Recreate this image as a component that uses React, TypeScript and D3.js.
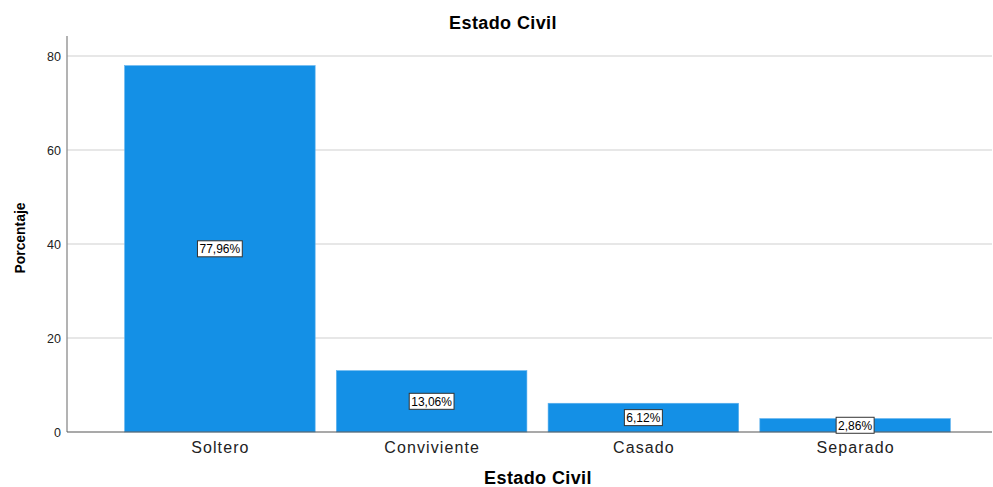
import React from "react";
import * as d3 from "d3";

const categories = ["Soltero", "Conviviente", "Casado", "Separado"];
const values = [77.96, 13.06, 6.12, 2.86];
const labels = ["77,96%", "13,06%", "6,12%", "2,86%"];
const yTicks = [0, 20, 40, 60, 80];

export default function App() {
  const W = 993, H = 487;
  const left = 67, right = 992, top = 36, bottom = 432;
  const y = d3.scaleLinear().domain([0, 84.26]).range([bottom, top]);
  const x = d3.scaleBand<string>().domain(categories).range([114, 961]).paddingInner(0.1).paddingOuter(0.05);
  const font = "Arial, 'Liberation Sans', sans-serif";
  return (
    <svg width={W} height={H} style={{ position: "absolute", left: 0, top: 0, background: "#fff" }} fontFamily={font}>
      <text x={503} y={29} textAnchor="middle" fontSize={18} fontWeight="bold" fill="#000" letterSpacing={0.4}>Estado Civil</text>
      {yTicks.filter(t => t > 0).map(t => (
        <line key={t} x1={left} x2={right} y1={y(t)} y2={y(t)} stroke="#cfcfcf" strokeWidth={1.2} />
      ))}
      {yTicks.map(t => (
        <text key={"l" + t} x={61} y={y(t) + 4.5} textAnchor="end" fontSize={12.5} fill="#222">{t}</text>
      ))}
      {categories.map((c, i) => (
        <rect key={c} x={x(c)!} y={y(values[i])} width={x.bandwidth()} height={bottom - y(values[i])} fill="#1490e6" stroke="#5fb2ee" strokeWidth={0.6} />
      ))}
      <line x1={left} x2={left} y1={top} y2={bottom} stroke="#8a8a8a" strokeWidth={1.3} />
      <line x1={left} x2={right} y1={bottom} y2={bottom} stroke="#555" strokeWidth={1.2} />
      {categories.map((c, i) => {
        const cx = x(c)! + x.bandwidth() / 2;
        const cy = (y(values[i]) + bottom) / 2;
        const w = labels[i].length * 6.8 + 4;
        return (
          <g key={"b" + c}>
            <rect x={cx - w / 2} y={cy - 8} width={w} height={16} fill="#fff" stroke="#333" strokeWidth={1} />
            <text x={cx} y={cy + 4.5} textAnchor="middle" fontSize={12} fill="#000">{labels[i]}</text>
          </g>
        );
      })}
      {categories.map(c => (
        <text key={"x" + c} x={x(c)! + x.bandwidth() / 2 + 0.5} y={453} textAnchor="middle" fontSize={16} fill="#222" letterSpacing={1.1}>{c}</text>
      ))}
      <text x={538} y={484} textAnchor="middle" fontSize={18} fontWeight="bold" fill="#000" letterSpacing={0.4}>Estado Civil</text>
      <text transform="translate(25,238) rotate(-90)" textAnchor="middle" fontSize={15.5} fontWeight="bold" fill="#000" textLength={71} lengthAdjust="spacingAndGlyphs">Porcentaje</text>
    </svg>
  );
}
